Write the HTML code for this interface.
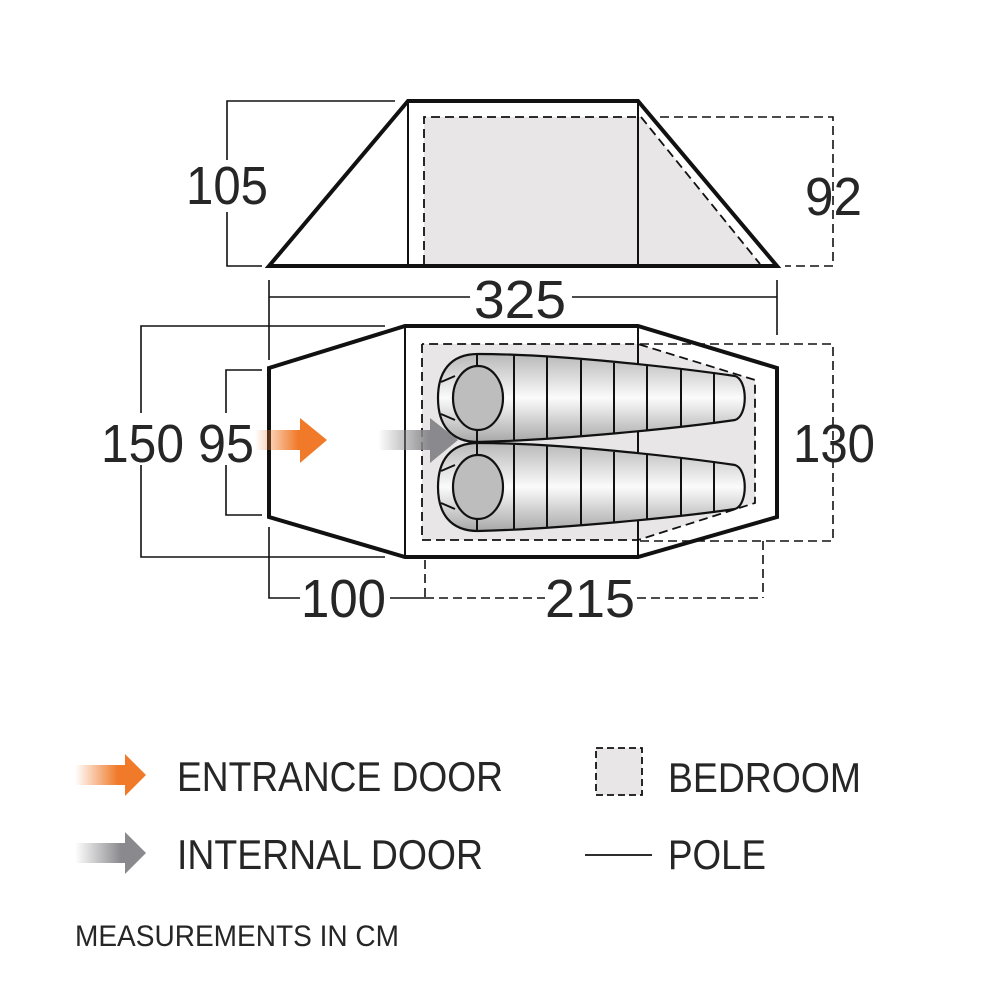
<!DOCTYPE html>
<html><head><meta charset="utf-8"><style>html,body{margin:0;padding:0;background:#fff}svg{display:block}text{font-family:"Liberation Sans",sans-serif;fill:#262626}</style></head><body>
<svg width="1000" height="1000" viewBox="0 0 1000 1000" xmlns="http://www.w3.org/2000/svg">
<defs>
<linearGradient id="og" x1="0" x2="1" y1="0" y2="0"><stop offset="0" stop-color="#f07a2a" stop-opacity="0"/><stop offset="0.6" stop-color="#f07a2a"/><stop offset="1" stop-color="#f07a2a"/></linearGradient>
<linearGradient id="gg" x1="0" x2="1" y1="0" y2="0"><stop offset="0" stop-color="#8a8a8e" stop-opacity="0"/><stop offset="0.65" stop-color="#8a8a8e"/><stop offset="1" stop-color="#8a8a8e"/></linearGradient>
<linearGradient id="bag" x1="0" x2="0" y1="0" y2="1"><stop offset="0" stop-color="#b8b8b8"/><stop offset="0.5" stop-color="#fbfbfb"/><stop offset="1" stop-color="#a8a8a8"/></linearGradient>
<g id="sb">
<path d="M478,0 C560,0 680,14 735,22 C748,26 748,62 735,66 C680,74 560,86 478,88 C450,88 438,70 438,44 C438,18 450,0 478,0 Z" fill="url(#bag)" stroke="#111" stroke-width="2.2"/>
<g stroke="#111" stroke-width="2"><line x1="514" y1="1" x2="514" y2="87"/><line x1="547" y1="3" x2="547" y2="85"/><line x1="581" y1="6" x2="581" y2="82"/><line x1="614" y1="9" x2="614" y2="79"/><line x1="647" y1="12" x2="647" y2="76"/><line x1="681" y1="15" x2="681" y2="73"/><line x1="714" y1="18" x2="714" y2="70"/>
<line x1="477" y1="0" x2="477" y2="88"/><line x1="441" y1="28" x2="455" y2="22"/><line x1="441" y1="60" x2="455" y2="66"/></g>
<ellipse cx="478" cy="44" rx="25" ry="32" fill="#bdbdbd" stroke="#111" stroke-width="2.2"/>
</g>
</defs>
<polygon points="424,117 641,117 760,264 424,264" fill="#e8e6e6"/>
<polyline points="424,264 424,117 641,117" fill="none" stroke="#111" stroke-width="1.8" stroke-dasharray="9,5"/>
<line x1="641" y1="117" x2="760" y2="264" stroke="#111" stroke-width="1.8" stroke-dasharray="9,5"/>
<polyline points="660,117 833,117 833,266 785,266" fill="none" stroke="#111" stroke-width="1.6" stroke-dasharray="9,5"/>
<polygon points="269,266 408,101 638,101 777,266" fill="none" stroke="#111" stroke-width="4"/>
<line x1="408" y1="101" x2="408" y2="266" stroke="#111" stroke-width="2"/>
<line x1="638" y1="101" x2="638" y2="266" stroke="#111" stroke-width="2"/>
<polyline points="395,101 227,101 227,160" fill="none" stroke="#111" stroke-width="1.6"/>
<polyline points="227,212 227,266 262,266" fill="none" stroke="#111" stroke-width="1.6"/>
<text x="186" y="204" font-size="54" textLength="82" lengthAdjust="spacingAndGlyphs">105</text>
<text x="805" y="215" font-size="54" textLength="57" lengthAdjust="spacingAndGlyphs">92</text>
<line x1="269" y1="297" x2="470" y2="297" stroke="#111" stroke-width="1.6"/>
<line x1="572" y1="297" x2="777" y2="297" stroke="#111" stroke-width="1.6"/>
<line x1="269" y1="280" x2="269" y2="360" stroke="#111" stroke-width="1.6"/>
<line x1="777" y1="280" x2="777" y2="335" stroke="#111" stroke-width="1.6"/>
<text x="474" y="318" font-size="54" textLength="92" lengthAdjust="spacingAndGlyphs">325</text>
<polygon points="422,344 638,344 755,380 755,503 638,540 422,540" fill="#e8e6e6"/>
<polyline points="422,344 422,540 638,540 755,503 755,380 638,344 422,344" fill="none" stroke="#111" stroke-width="1.8" stroke-dasharray="9,5"/>
<polyline points="640,344 833,344 833,541 640,541" fill="none" stroke="#111" stroke-width="1.6" stroke-dasharray="9,5"/>
<line x1="763" y1="541" x2="763" y2="598" stroke="#111" stroke-width="1.6" stroke-dasharray="9,5"/>
<line x1="425" y1="560" x2="425" y2="598" stroke="#111" stroke-width="1.6" stroke-dasharray="9,5"/>
<line x1="425" y1="598" x2="545" y2="598" stroke="#111" stroke-width="1.6" stroke-dasharray="9,5"/>
<line x1="637" y1="598" x2="763" y2="598" stroke="#111" stroke-width="1.6" stroke-dasharray="9,5"/>
<polygon points="269,368 405,326 638,326 777,368 777,517 638,557 405,557 269,517" fill="none" stroke="#111" stroke-width="4"/>
<line x1="405" y1="326" x2="405" y2="557" stroke="#111" stroke-width="2"/>
<line x1="638" y1="326" x2="638" y2="557" stroke="#111" stroke-width="2"/>
<use href="#sb" transform="translate(0,354)"/>
<use href="#sb" transform="translate(0,443)"/>
<polyline points="385,326 141,326 141,413" fill="none" stroke="#111" stroke-width="1.6"/>
<polyline points="141,465 141,557 385,557" fill="none" stroke="#111" stroke-width="1.6"/>
<polyline points="262,370 226,370 226,413" fill="none" stroke="#111" stroke-width="1.6"/>
<polyline points="226,465 226,515 262,515" fill="none" stroke="#111" stroke-width="1.6"/>
<text x="101" y="462" font-size="54" textLength="83" lengthAdjust="spacingAndGlyphs">150</text>
<text x="198" y="462" font-size="54" textLength="56" lengthAdjust="spacingAndGlyphs">95</text>
<text x="793" y="462" font-size="54" textLength="82" lengthAdjust="spacingAndGlyphs">130</text>
<polyline points="269,527 269,598 300,598" fill="none" stroke="#111" stroke-width="1.6"/>
<line x1="390" y1="598" x2="425" y2="598" stroke="#111" stroke-width="1.6"/>
<text x="301" y="617" font-size="54" textLength="85" lengthAdjust="spacingAndGlyphs">100</text>
<text x="545" y="617" font-size="54" textLength="90" lengthAdjust="spacingAndGlyphs">215</text>
<polygon points="255,430 300,430 300,418 327,440 300,463 300,450 255,450" fill="url(#og)"/>
<polygon points="378,430 430,430 430,418 458,440 430,463 430,450 378,450" fill="url(#gg)"/>
<polygon points="75,765 125,765 125,754 146,775 125,796 125,785 75,785" fill="url(#og)"/>
<polygon points="75,843 125,843 125,832 146,853 125,874 125,863 75,863" fill="url(#gg)"/>
<text x="177" y="791" font-size="42" textLength="326" lengthAdjust="spacingAndGlyphs">ENTRANCE DOOR</text>
<text x="177" y="869" font-size="42" textLength="306" lengthAdjust="spacingAndGlyphs">INTERNAL DOOR</text>
<rect x="596" y="748" width="46" height="47" fill="#e8e6e6" stroke="#111" stroke-width="1.8" stroke-dasharray="7,4"/>
<text x="668" y="792" font-size="42" textLength="193" lengthAdjust="spacingAndGlyphs">BEDROOM</text>
<line x1="585" y1="855" x2="652" y2="855" stroke="#111" stroke-width="1.8"/>
<text x="668" y="869" font-size="42" textLength="98" lengthAdjust="spacingAndGlyphs">POLE</text>
<text x="75" y="946" font-size="30" textLength="324" lengthAdjust="spacingAndGlyphs">MEASUREMENTS IN CM</text>
</svg>
</body></html>
